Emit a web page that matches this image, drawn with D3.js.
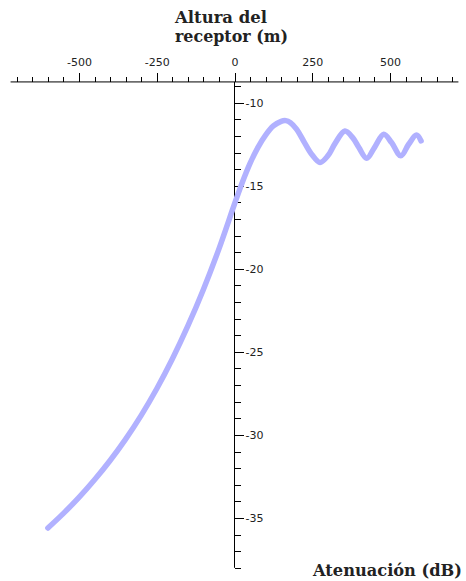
<!DOCTYPE html>
<html>
<head>
<meta charset="utf-8">
<script src="https://cdn.jsdelivr.net/npm/d3@7"></script>
<style>
  html, body { margin: 0; padding: 0; background: #fff; }
  svg { display: block; }
</style>
</head>
<body>
<svg id="chart" width="466" height="581"></svg>
<script>
// ---- Data ----
const heights = [-600, -550, -500, -450, -400, -350, -300, -250, -200, -150, -100, -50, 0, 25, 50, 75, 100, 125, 150, 165, 180, 200, 225, 250, 275, 300, 325, 355, 380, 400, 425, 450, 480, 505, 535, 560, 585, 600];
const attenuation = [-35.6, -34.72, -33.76, -32.7, -31.54, -30.25, -28.82, -27.22, -25.43, -23.44, -21.24, -18.8, -16.1, -14.8, -13.65, -12.7, -11.95, -11.4, -11.12, -11.08, -11.2, -11.6, -12.4, -13.15, -13.6, -13.2, -12.4, -11.7, -12.1, -12.7, -13.35, -12.7, -11.9, -12.4, -13.2, -12.5, -11.95, -12.3];
const xMajorTicks = [-500, -250, 0, 250, 500];
const xMinorTicks = d3.range(-700, 701, 50);
const yMajorTicks = [-10, -15, -20, -25, -30, -35];
const yMinorTicks = d3.range(-9, -38.5, -1);
const xTitleLines = ["Altura del", "receptor (m)"];
const yTitle = "Atenuación (dB)";

const svg = d3.select("#chart");

const x = d3.scaleLinear().domain([-500, 500]).range([79, 390]);
const y = d3.scaleLinear().domain([-10, -35]).range([102.7, 518]);

const axisY0 = y(-8.75);   // horizontal axis position
const axisX0 = x(0);       // vertical axis position

const tickFont = "'DejaVu Sans', Verdana, sans-serif";

// ---- Horizontal axis (top) ----
const gx = svg.append("g").attr("transform", `translate(0,${axisY0})`);
gx.append("line")
  .attr("x1", x(-720)).attr("x2", x(720))
  .attr("y1", 0).attr("y2", 0)
  .attr("stroke", "#000").attr("stroke-width", 1);

const gxMinor = gx.append("g")
  .call(d3.axisTop(x).tickValues(xMinorTicks).tickSize(5).tickFormat(""));
const gxMajor = gx.append("g")
  .call(d3.axisTop(x).tickValues(xMajorTicks).tickSize(9).tickPadding(7).tickFormat(d => String(d)));
[gxMinor, gxMajor].forEach(g => {
  g.select(".domain").remove();
  g.selectAll(".tick line").attr("stroke", "#000").attr("shape-rendering", "crispEdges");
});
gxMajor.selectAll(".tick text")
  .attr("fill", "#222").style("font-family", tickFont).style("font-size", "11px");

// ---- Vertical axis ----
const gy = svg.append("g").attr("transform", `translate(${axisX0},0)`);
gy.append("line")
  .attr("x1", 0).attr("x2", 0)
  .attr("y1", axisY0).attr("y2", y(-38))
  .attr("stroke", "#000").attr("stroke-width", 1);

const gyMinor = gy.append("g")
  .call(d3.axisRight(y).tickValues(yMinorTicks).tickSize(6).tickFormat(""));
const gyMajor = gy.append("g")
  .call(d3.axisRight(y).tickValues(yMajorTicks).tickSize(9).tickPadding(2).tickFormat(d => String(d)));
[gyMinor, gyMajor].forEach(g => {
  g.select(".domain").remove();
  g.selectAll(".tick line").attr("stroke", "#000").attr("shape-rendering", "crispEdges");
});
gyMajor.selectAll(".tick text")
  .attr("fill", "#222").style("font-family", tickFont).style("font-size", "11px");

// ---- Curve ----
const pts = heights.map((h, i) => [h, attenuation[i]]);
const line = d3.line()
  .x(d => x(d[0]))
  .y(d => y(d[1]))
  .curve(d3.curveCatmullRom.alpha(0.5));

svg.append("path")
  .datum(pts)
  .attr("d", line)
  .attr("fill", "none")
  .attr("stroke", "#b1b1ff")
  .attr("stroke-width", 5.5)
  .attr("stroke-linecap", "round")
  .attr("stroke-linejoin", "round");

// ---- Titles ----
const titleFont = "'DejaVu Serif', 'Liberation Serif', serif";
const titleWidths = [92, 113];
const titleBaselines = [23, 42];
xTitleLines.forEach((t, i) => {
  svg.append("text")
    .attr("x", 175).attr("y", titleBaselines[i])
    .attr("textLength", titleWidths[i])
    .attr("lengthAdjust", "spacingAndGlyphs")
    .style("font-family", titleFont).style("font-weight", "bold").style("font-size", "16px")
    .attr("fill", "#222")
    .text(t);
});
svg.append("text")
  .attr("x", 313).attr("y", 576)
  .attr("textLength", 149)
  .attr("lengthAdjust", "spacingAndGlyphs")
  .style("font-family", titleFont).style("font-weight", "bold").style("font-size", "16px")
  .attr("fill", "#222")
  .text(yTitle);
</script>
</body>
</html>
